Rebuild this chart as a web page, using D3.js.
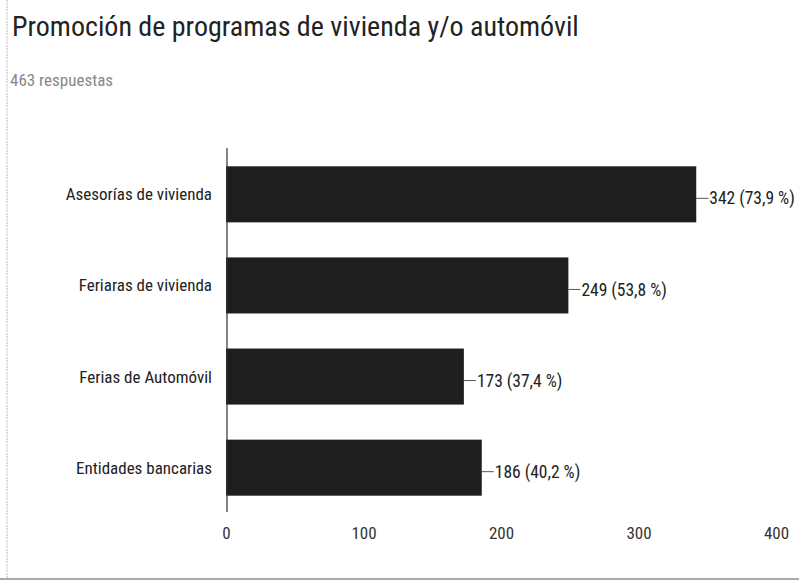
<!DOCTYPE html>
<html><head><meta charset="utf-8">
<script src="https://cdn.jsdelivr.net/npm/d3@7"></script>
<style>body{margin:0;background:#fff}</style>
</head><body>
<script>
const categories = ["Asesorías de vivienda","Feriaras de vivienda","Ferias de Automóvil","Entidades bancarias"];
const values = [342, 249, 173, 186];
const valueLabels = ["342 (73,9 %)","249 (53,8 %)","173 (37,4 %)","186 (40,2 %)"];
const ticks = [0,100,200,300,400];
const title = "Promoción de programas de vivienda y/o automóvil";
const subtitle = "463 respuestas";

const W = 799, H = 588;
const FONT = "'Liberation Sans Narrow','Arial Narrow','Roboto Condensed',Roboto,sans-serif";
const svg = d3.select("body").append("svg").attr("width", W).attr("height", H)
  .style("font-family", FONT);

// scan-like borders
svg.append("line").attr("x1",7).attr("x2",7).attr("y1",0).attr("y2",578)
  .attr("stroke","#bbb").attr("stroke-dasharray","2,1");
svg.append("line").attr("x1",0).attr("x2",W).attr("y1",579).attr("y2",579)
  .attr("stroke","#aaa").attr("stroke-width",2);

svg.append("text").attr("x",12).attr("y",36).attr("font-size",28).attr("fill","#222").text(title);
svg.append("text").attr("x",10).attr("y",86).attr("font-size",17).attr("fill","#888").text(subtitle);

const x = d3.scaleLinear().domain([0,400]).range([226,776]);
const y = d3.scaleBand().domain(categories).range([149,513]).paddingInner(0.385).paddingOuter(0.19);

svg.selectAll("rect.bar").data(categories).join("rect").attr("class","bar")
  .attr("x", x(0)).attr("y", d=>y(d))
  .attr("width", (d,i)=>x(values[i])-x(0)).attr("height", y.bandwidth())
  .attr("fill","#1e1e1e");

svg.append("line").attr("x1",x(0)+1).attr("x2",x(0)+1).attr("y1",148).attr("y2",512)
  .attr("stroke","#333").attr("stroke-width",1.2);

svg.selectAll("text.cat").data(categories).join("text").attr("class","cat")
  .attr("x",212).attr("y",d=>y(d)+y.bandwidth()/2).attr("dy","0.35em")
  .attr("text-anchor","end").attr("font-size",17).attr("fill","#222").text(d=>d);

const g = svg.selectAll("g.val").data(categories).join("g").attr("class","val");
g.append("line").attr("x1",(d,i)=>x(values[i])).attr("x2",(d,i)=>x(values[i])+12)
  .attr("y1",d=>y(d)+y.bandwidth()/2+4).attr("y2",d=>y(d)+y.bandwidth()/2+4)
  .attr("stroke","#555").attr("stroke-width",1);
g.append("text").attr("x",(d,i)=>x(values[i])+13).attr("y",d=>y(d)+y.bandwidth()/2+4).attr("dy","0.35em")
  .attr("font-size",17.5).attr("fill","#222").text((d,i)=>valueLabels[i]);

const axis = d3.axisBottom(x).tickValues(ticks).tickSize(0).tickPadding(0);
const ax = svg.append("g").attr("transform","translate(0,527)").call(axis);
ax.select(".domain").remove();
ax.selectAll("text").attr("font-size",17).attr("fill","#333").style("font-family",FONT);
</script>
</body></html>
